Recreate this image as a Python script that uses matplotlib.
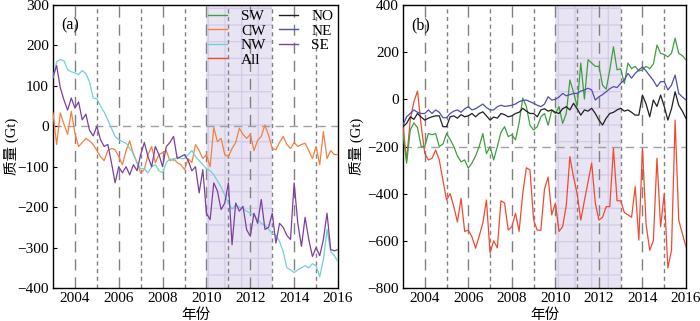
import numpy as np
import matplotlib
matplotlib.use("Agg")
import matplotlib.pyplot as plt
from matplotlib.lines import Line2D

plt.rcParams['font.family'] = ['Liberation Serif', 'Noto Sans CJK SC']
plt.rcParams['font.size'] = 11

# time axis: 6 samples per year, 2003.0 .. 2016.0
start_year = 2003
samples_per_year = 6
n_samples = 79

# ---- panel (a) series (Gt) ----
NW = [120, 160, 165, 162, 140, 135,
      132, 128, 138, 130, 110, 70,
      68, 50, 35, 16, -5, -25,
      -33, -38, -42, -55, -66, -90,
      -105, -105, -115, -100, -95, -110,
      -115, -90, -80, -85, -75, -80,
      -80, -70, -60, -75, -85, -95,
      -105, -110, -120, -135, -150, -170,
      -190, -205, -195, -200, -205, -210,
      -215, -220, -230, -240, -245, -255,
      -265, -270, -285, -310, -350, -355,
      -362, -355, -350, -345, -350, -340,
      -345, -372, -330, -255, -310, -320,
      -335]
SE = [122, 150, 95, 65, 40, 70,
      45, 60, 16, 30, -10, -24,
      0, -33, -50, -45, -90, -140,
      -100, -115, -100, -120, -95, -110,
      -70, -40, -75, -100, -50, -70,
      -100, -50, -40, -25, -80, -75,
      -70, -85, -110, -100, -165, -107,
      -215, -231, -140, -160, -206, -190,
      -140, -293, -190, -210, -198, -256,
      -272, -215, -240, -181, -255, -250,
      -215, -289, -240, -250, -270, -280,
      -140, -240, -297, -225, -280, -322,
      -300, -320, -280, -215, -305, -308,
      -305]
CW = [33, -45, 33, 5, -20, 37,
      -17, -50, -40, -30, -36, -45,
      -60, -75, -85, -60, -55, -58,
      -75, -95, -60, -36, -70, -90,
      -116, -107, -70, -50, -90, -70,
      -65, -60, -85, -80, -90, -95,
      -107, -80, -90, -45, -60, -80,
      -70, -100, -3, -38, -30, -70,
      -75, -55, -40, -5, -20, -30,
      -20, -60, -35, -25, 3, -22,
      -55, -58, -40, -25, -45, -55,
      -40, -50, -45, -42, -60, -80,
      -50, -95, -13, -80, -60, -70,
      -70]

# ---- panel (b) series (Gt) ----
ALL = [-116, -257, -88, -10, 35, -110,
       -229, -257, -250, -215, -257, -343,
       -427, -400, -455, -520, -420, -560,
       -555, -583, -631, -580, -525, -427,
       -652, -600, -630, -430, -440, -554,
       -540, -483, -560, -400, -290, -300,
       -512, -555, -555, -380, -330, -490,
       -440, -560, -540, -450, -243, -330,
       -400, -512, -430, -350, -270, -440,
       -512, -500, -455, -455, -207, -430,
       -430, -480, -490, -500, -370, -597,
       -207, -530, -640, -600, -250, -540,
       -400, -715, -640, -88, -512, -570,
       -625]
SW = [-145, -271, -130, -100, -120, -200,
      -200, -145, -150, -145, -200, -190,
      -145, -170, -200, -240, -265, -257,
      -292, -270, -240, -200, -145, -230,
      -200, -257, -200, -140, -116, -158,
      -150, -172, -100, 5, -30, -110,
      -130, -116, -74, -60, -110, -46,
      -60, -31, -102, -60, 82, 30,
      -30, 154, 1, 168, 154, 140,
      140, 60, 43, 125, 223, 125,
      130, 67, 154, 130, 140, 120,
      125, 140, 130, 150, 230, 195,
      190, 180, 195, 259, 195, 185,
      167]
NE = [-109, -74, -60, -45, -55, -60,
      -60, -45, -60, -45, -55, -78,
      -78, -60, -50, -45, -55, -40,
      -31, -45, -40, -30, -20, -35,
      -45, -45, -31, -25, -30, -28,
      -25, -20, -10, -5, -3, -10,
      -17, -25, -31, -20, 11, -3,
      0, 10, 25, 15, 20, 25,
      25, 35, 40, 47, 40, -3,
      11, 20, 32, 45, 54, 50,
      68, 82, 110, 90, 110, 125,
      138, 120, 100, 80, 54, 75,
      75, 40, 60, 103, 25, 10,
      -3]
NO = [-116, -102, -74, -85, -60, -75,
      -88, -80, -74, -70, -70, -116,
      -116, -74, -70, -80, -65, -74,
      -70, -60, -74, -60, -53, -70,
      -88, -75, -80, -60, -65, -74,
      -70, -60, -55, -38, -50, -60,
      -60, -74, -45, -40, -50, -45,
      -55, -60, -40, -31, -45, -17,
      -40, -67, -45, -50, -38, -60,
      -88, -109, -80, -60, -55, -45,
      -38, -50, -45, -55, -67, -67,
      18, -20, -74, -3, -30, 18,
      -30, -88, -40, 32, -25, -50,
      -81]

xticks = [2004, 2006, 2008, 2010, 2012, 2014, 2016]
year_lines = list(range(2004, 2016))
span = (2010, 2013)

colors = {'SW': '#3f9f3f', 'CW': '#f5803e', 'NW': '#72d0d2', 'All': '#ee4b32',
          'NO': '#202020', 'NE': '#4f4faf', 'SE': '#7d3f9f'}

t = start_year + np.arange(n_samples) / samples_per_year

fig = plt.figure(figsize=(7.0, 3.21), dpi=100)
ax1 = fig.add_axes([53/700, 1-288/321, 285/700, 283/321])
ax2 = fig.add_axes([403/700, 1-288/321, 283/700, 283/321])


def decorate(ax, ylim, yticks, hline, tag, ylab_x):
    ax.set_xlim(2003, 2016)
    ax.set_ylim(*ylim)
    ax.set_xticks(xticks)
    ax.set_yticks(yticks)
    ax.axvspan(span[0], span[1], facecolor='#e9e4f3', edgecolor='#d5cce8',
               hatch='+', linewidth=0, zorder=0)
    for y in year_lines:
        if y % 2 == 0:
            ax.axvline(y, color='#808080', lw=1.0, dashes=(8, 5), zorder=1)
        else:
            ax.axvline(y, color='#808080', lw=1.0, dashes=(3, 2.5), zorder=1)
    ax.axhline(hline, color='#a0a0a0', lw=1.0, dashes=(6, 4), zorder=1)
    ax.tick_params(direction='in', length=3, labelsize=11, top=False, right=False)
    ax.tick_params(axis='x', length=0, pad=3)
    ax.tick_params(axis='y', pad=3)
    for s in ax.spines.values():
        s.set_linewidth(1.0)
    ax.text(0.03, 0.955, tag, transform=ax.transAxes, fontsize=11.5, va='top', ha='left')
    ax.set_xlabel('年份', fontsize=10.5)
    ax.xaxis.label.set_va('center')
    ax.xaxis.set_label_coords(0.5, -0.095)
    ax.set_ylabel('质量 (Gt)', fontsize=10.5)
    ax.yaxis.label.set_va('center')
    ax.yaxis.set_label_coords(ylab_x, 0.5)


decorate(ax1, (-400, 300), range(-400, 301, 100), 0, '(a)', -0.145)
decorate(ax2, (-800, 400), range(-800, 401, 200), -200, '(b)', -0.163)

lw = 0.9
ax1.plot(t, CW, color=colors['CW'], lw=lw, zorder=3)
ax1.plot(t, NW, color=colors['NW'], lw=lw, zorder=3)
ax1.plot(t, SE, color=colors['SE'], lw=lw, zorder=4)

ax2.plot(t, ALL, color=colors['All'], lw=lw, zorder=3)
ax2.plot(t, SW, color=colors['SW'], lw=lw, zorder=3)
ax2.plot(t, NE, color=colors['NE'], lw=lw, zorder=4)
ax2.plot(t, NO, color=colors['NO'], lw=lw, zorder=5)

names = ['SW', 'CW', 'NW', 'All', 'NO', 'NE', 'SE']
handles = [Line2D([], [], color=colors[n], lw=1.0) for n in names]
handles.append(Line2D([], [], color='none'))
labels = names + ['']
leg = ax1.legend(handles, labels, ncol=2, loc='upper right', frameon=False,
                 fontsize=11, handlelength=1.25, handletextpad=0.9,
                 columnspacing=0.8, labelspacing=0.05, borderpad=0.2,
                 bbox_to_anchor=(1.0, 1.0), borderaxespad=0.1)

fig.savefig('out.png', dpi=100)
